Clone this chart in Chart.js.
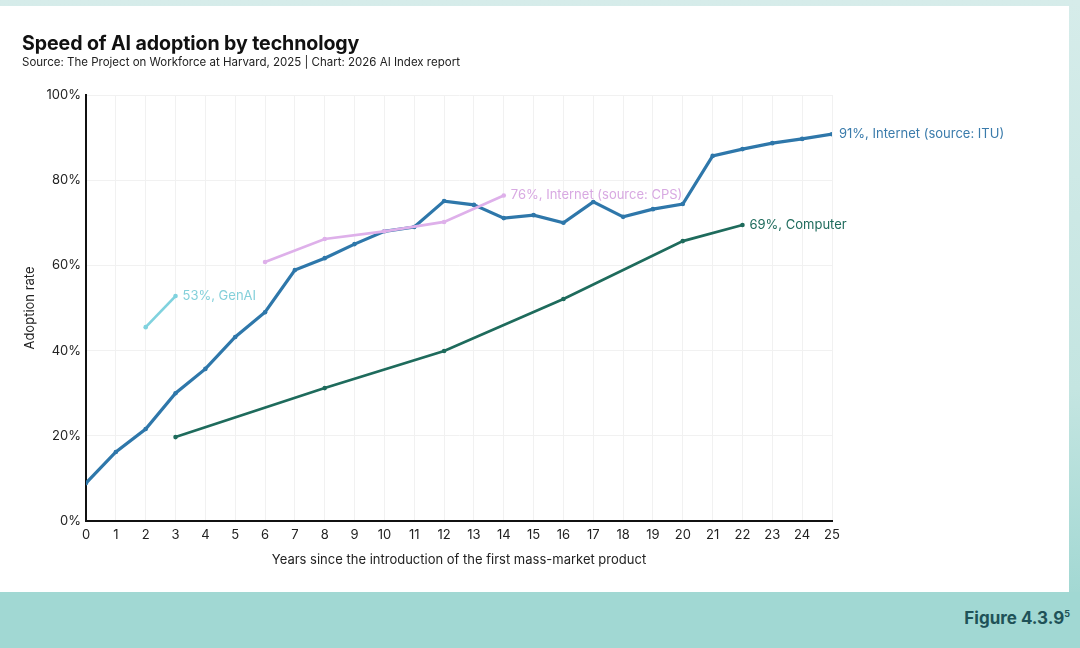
<!DOCTYPE html>
<html>
<head>
<meta charset="utf-8">
<script src="https://cdn.jsdelivr.net/npm/chart.js@4/dist/chart.umd.min.js"></script>
<style>
  html, body {
    margin: 0;
    padding: 0;
    width: 1080px;
    height: 648px;
    overflow: hidden;
    font-family: Inter, "Noto Sans", sans-serif;
  }
  body {
    background: linear-gradient(to bottom, #d6ecea 0%, #c4e5e1 60%, #a2d8d3 92%);
    position: relative;
  }
  .card {
    position: absolute;
    left: 0;
    top: 6px;
    width: 1069px;
    height: 586px;
    background: #fff;
  }
  .bottom-band {
    position: absolute;
    left: 0;
    top: 592px;
    width: 1080px;
    height: 56px;
    background: #a1d8d3;
  }
  .title {
    position: absolute;
    left: 22px;
    top: 31px;
    font-size: 19.6px;
    font-weight: 700;
    color: #111;
    letter-spacing: -0.1px;
  }
  .subtitle {
    position: absolute;
    left: 22px;
    top: 55px;
    font-size: 11.5px;
    color: #222;
  }
  .figure {
    position: absolute;
    right: 10px;
    top: 608px;
    font-size: 17px;
    font-weight: 700;
    color: #1f5258;
  }
  .figure sup {
    font-size: 9px;
    vertical-align: 7px;
  }
  #chartWrap {
    position: absolute;
    left: 0;
    top: 0;
    width: 1069px;
    height: 592px;
  }
</style>
</head>
<body>
<div class="card"></div>
<div class="bottom-band"></div>
<div id="chartWrap"><canvas id="adoptionChart"></canvas></div>
<div class="title">Speed of AI adoption by technology</div>
<div class="subtitle">Source: The Project on Workforce at Harvard, 2025 | Chart: 2026 AI Index report</div>
<div class="figure">Figure 4.3.9<sup>5</sup></div>

<script>
// Data
const itu_years = [0, 1, 2, 3, 4, 5, 6, 7, 8, 9, 10, 11, 12, 13, 14, 15, 16, 17, 18, 19, 20, 21, 22, 23, 24, 25];
const itu_values = [8.9, 16.2, 21.6, 30, 35.7, 43.2, 49, 58.9, 61.7, 65, 68, 69, 75.1, 74.2, 71.1, 71.8, 70, 74.9, 71.4, 73.2, 74.4, 85.7, 87.3, 88.7, 89.7, 90.8];

const cps_years = [6, 8, 10, 12, 14];
const cps_values = [60.8, 66.2, 68, 70.2, 76.4];

const genai_years = [2, 3];
const genai_values = [45.5, 52.8];

const computer_years = [3, 8, 12, 16, 20, 22];
const computer_values = [19.7, 31.2, 39.9, 52.1, 65.7, 69.5];

const x_ticks = [0, 1, 2, 3, 4, 5, 6, 7, 8, 9, 10, 11, 12, 13, 14, 15, 16, 17, 18, 19, 20, 21, 22, 23, 24, 25];
const y_ticks = [0, 20, 40, 60, 80, 100];

const end_labels = ['91%, Internet (source: ITU)', '76%, Internet (source: CPS)', '53%, GenAI', '69%, Computer'];

function toPoints(xs, ys) {
    return xs.map((x, i) => ({ x: x, y: ys[i] }));
}

function series(label, xs, ys, color, labelColor, width, endLabel) {
    return {
        label: label,
        data: toPoints(xs, ys),
        borderColor: color,
        backgroundColor: color,
        borderWidth: width,
        pointRadius: 2.3,
        pointHoverRadius: 2.3,
        pointBorderWidth: 0,
        tension: 0,
        endLabel: endLabel,
        labelColor: labelColor
    };
}

// Text at the end of each line
const endLabelPlugin = {
    id: 'endLabels',
    afterDatasetsDraw(chart) {
        const ctx = chart.ctx;
        const xScale = chart.scales.x;
        const yScale = chart.scales.y;
        ctx.save();
        ctx.font = '13px Inter, "Noto Sans", sans-serif';
        ctx.textBaseline = 'middle';
        ctx.textAlign = 'left';
        chart.data.datasets.forEach(ds => {
            const last = ds.data[ds.data.length - 1];
            ctx.fillStyle = ds.labelColor;
            ctx.fillText(ds.endLabel, xScale.getPixelForValue(last.x) + 7, yScale.getPixelForValue(last.y));
        });
        ctx.restore();
    }
};

const ctx = document.getElementById('adoptionChart').getContext('2d');
const adoptionChart = new Chart(ctx, {
    type: 'line',
    data: {
        datasets: [
            series('Computer', computer_years, computer_values, '#1e6b5c', '#1e6b5c', 2.7, end_labels[3]),
            series('Internet (source: CPS)', cps_years, cps_values, '#deb0ea', '#d8a9e2', 2.7, end_labels[1]),
            series('GenAI', genai_years, genai_values, '#80d2de', '#84d0da', 2.7, end_labels[2]),
            series('Internet (source: ITU)', itu_years, itu_values, '#2e77aa', '#3a7bab', 3.2, end_labels[0])
        ]
    },
    options: {
        responsive: true,
        maintainAspectRatio: false,
        animation: false,
        layout: {
            padding: { top: 95, right: 237, bottom: 20, left: 8 }
        },
        plugins: {
            legend: { display: false },
            tooltip: { enabled: false }
        },
        scales: {
            x: {
                type: 'linear',
                min: 0,
                max: 25,
                afterBuildTicks: (scale) => { scale.ticks = x_ticks.map(v => ({ value: v })); },
                afterFit: (scale) => { scale.height = 51; },
                ticks: {
                    padding: 6,
                    color: '#222',
                    font: { size: 13, family: 'Inter, "Noto Sans", sans-serif' },
                    maxRotation: 0,
                    autoSkip: false
                },
                grid: { color: '#f1f1f1', lineWidth: 1, drawTicks: false },
                border: { color: '#111', width: 2 },
                title: {
                    display: true,
                    text: 'Years since the introduction of the first mass-market product',
                    color: '#222',
                    font: { size: 13, family: 'Inter, "Noto Sans", sans-serif' },
                    padding: { top: 6 }
                }
            },
            y: {
                min: 0,
                max: 100,
                afterBuildTicks: (scale) => { scale.ticks = y_ticks.map(v => ({ value: v })); },
                afterFit: (scale) => { scale.width = 78; },
                ticks: {
                    padding: 5,
                    color: '#222',
                    font: { size: 13, family: 'Inter, "Noto Sans", sans-serif' },
                    callback: (v) => v + '%'
                },
                grid: { color: '#f1f1f1', lineWidth: 1, drawTicks: false },
                border: { color: '#111', width: 2 },
                title: {
                    display: true,
                    text: 'Adoption rate',
                    color: '#222',
                    font: { size: 13, family: 'Inter, "Noto Sans", sans-serif' },
                    padding: { top: 14, bottom: 0 }
                }
            }
        }
    },
    plugins: [endLabelPlugin]
});
</script>
</body>
</html>
